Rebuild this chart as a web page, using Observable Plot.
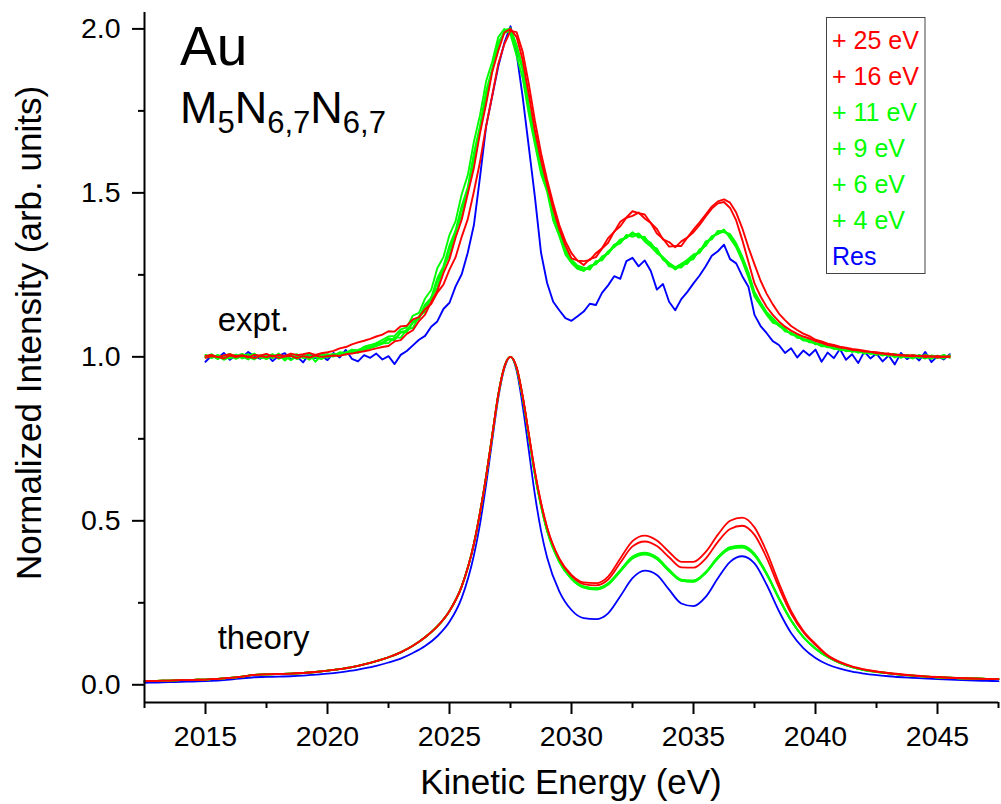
<!DOCTYPE html>
<html>
<head>
<meta charset="utf-8">
<script src="https://cdn.jsdelivr.net/npm/d3@7"></script>
<script src="https://cdn.jsdelivr.net/npm/@observablehq/plot@0.6"></script>
<style>
  body { margin: 0; background: #fff; }
  #chart svg { display: block; }
</style>
</head>
<body>
<div id="chart"></div>
<script>
// Au M5N6,7N6,7 Auger spectra: measured (offset +1) and calculated, one line per photon energy above threshold.
const seriesLabels = ["+ 25 eV", "+ 16 eV", "+ 11 eV", "+ 9 eV", "+ 6 eV", "+ 4 eV", "Res"];
const seriesColors = ["#ff0000", "#ff0000", "#00ff00", "#00ff00", "#00ff00", "#00ff00", "#0000ff"];

// Measured spectra: kinetic-energy channels start at 2015 eV, 0.25 eV apart.
const exptStart = 2015;
const exptStep = 0.25;

const expt25 = [
  1.003, 1.006, 0.999, 1.004, 1.008, 1.002, 1.005, 0.998, 1.006, 1.004,
  1.009, 1.001, 1.006, 1.003, 1.010, 1.005, 1.008, 1.012, 1.006, 1.011,
  1.014, 1.018, 1.026, 1.030, 1.038, 1.044, 1.049, 1.055, 1.062, 1.068,
  1.078, 1.077, 1.093, 1.095, 1.114, 1.121, 1.146, 1.161, 1.196, 1.220,
  1.266, 1.304, 1.366, 1.420, 1.504, 1.594, 1.704, 1.796, 1.894, 1.954,
  1.994, 1.990, 1.930, 1.832, 1.720, 1.622, 1.540, 1.468, 1.402, 1.352,
  1.316, 1.293, 1.292, 1.295, 1.316, 1.331, 1.362, 1.381, 1.412, 1.425,
  1.444, 1.438, 1.434, 1.408, 1.390, 1.358, 1.350, 1.334, 1.352, 1.364,
  1.388, 1.410, 1.434, 1.458, 1.474, 1.480, 1.470, 1.440, 1.392, 1.334,
  1.282, 1.232, 1.192, 1.160, 1.132, 1.112, 1.094, 1.082, 1.071, 1.063,
  1.052, 1.047, 1.040, 1.036, 1.031, 1.028, 1.024, 1.022, 1.019, 1.016,
  1.014, 1.011, 1.010, 1.007, 1.006, 1.004, 1.005, 1.002, 1.004, 1.000,
  1.003, 0.999, 1.002
];
const expt16 = [
  0.997, 1.002, 1.000, 0.995, 1.004, 0.999, 1.003, 1.001, 0.996, 1.002,
  0.999, 1.004, 0.997, 1.001, 1.003, 0.996, 1.002, 0.998, 1.004, 1.000,
  1.002, 1.004, 1.003, 1.008, 1.010, 1.014, 1.017, 1.021, 1.026, 1.030,
  1.033, 1.047, 1.051, 1.070, 1.081, 1.109, 1.129, 1.167, 1.201, 1.255,
  1.298, 1.364, 1.418, 1.498, 1.576, 1.682, 1.771, 1.868, 1.934, 1.989,
  2.000, 1.975, 1.905, 1.800, 1.690, 1.600, 1.525, 1.452, 1.390, 1.340,
  1.300, 1.294, 1.280, 1.298, 1.304, 1.330, 1.348, 1.382, 1.398, 1.424,
  1.430, 1.440, 1.422, 1.408, 1.376, 1.360, 1.336, 1.338, 1.338, 1.364,
  1.380, 1.402, 1.428, 1.452, 1.468, 1.472, 1.454, 1.416, 1.356, 1.290,
  1.224, 1.184, 1.152, 1.128, 1.108, 1.092, 1.080, 1.070, 1.062, 1.056,
  1.048, 1.043, 1.036, 1.033, 1.028, 1.026, 1.021, 1.020, 1.016, 1.015,
  1.011, 1.010, 1.007, 1.006, 1.004, 1.003, 1.002, 1.003, 0.999, 1.002,
  0.998, 1.001, 1.000
];
const expt11 = [
  1.002, 0.996, 1.006, 0.999, 1.004, 0.994, 1.003, 1.008, 0.997, 1.001,
  0.993, 1.005, 0.999, 1.002, 0.990, 1.004, 1.000, 0.995, 1.006, 1.001,
  1.004, 1.009, 1.006, 1.014, 1.017, 1.021, 1.027, 1.031, 1.039, 1.044,
  1.056, 1.052, 1.077, 1.079, 1.108, 1.121, 1.160, 1.180, 1.240, 1.276,
  1.340, 1.386, 1.460, 1.517, 1.622, 1.704, 1.810, 1.878, 1.960, 1.988,
  1.994, 1.940, 1.876, 1.754, 1.660, 1.570, 1.516, 1.426, 1.378, 1.322,
  1.292, 1.274, 1.266, 1.272, 1.288, 1.298, 1.322, 1.334, 1.352, 1.364,
  1.378, 1.368, 1.362, 1.342, 1.328, 1.298, 1.282, 1.268, 1.279, 1.288,
  1.306, 1.322, 1.348, 1.362, 1.381, 1.386, 1.368, 1.342, 1.298, 1.252,
  1.192, 1.162, 1.132, 1.112, 1.094, 1.082, 1.071, 1.062, 1.052, 1.048,
  1.040, 1.037, 1.029, 1.028, 1.022, 1.021, 1.017, 1.018, 1.012, 1.014,
  1.008, 1.011, 1.004, 1.009, 1.002, 1.006, 0.999, 1.004, 0.997, 1.003,
  0.996, 1.005, 1.000
];
const expt9 = [
  0.998, 1.005, 0.993, 1.003, 1.009, 0.997, 1.001, 0.992, 1.006, 1.000,
  1.004, 0.996, 1.010, 0.994, 1.002, 0.997, 1.006, 0.991, 1.003, 1.007,
  1.008, 1.004, 1.014, 1.012, 1.022, 1.019, 1.031, 1.036, 1.042, 1.052,
  1.062, 1.064, 1.084, 1.090, 1.126, 1.134, 1.178, 1.204, 1.270, 1.304,
  1.372, 1.414, 1.496, 1.554, 1.656, 1.737, 1.840, 1.900, 1.975, 2.000,
  1.984, 1.918, 1.850, 1.740, 1.648, 1.558, 1.504, 1.416, 1.368, 1.312,
  1.286, 1.268, 1.262, 1.278, 1.282, 1.306, 1.314, 1.338, 1.346, 1.372,
  1.366, 1.374, 1.352, 1.336, 1.316, 1.302, 1.276, 1.272, 1.284, 1.296,
  1.312, 1.318, 1.342, 1.368, 1.374, 1.388, 1.362, 1.334, 1.292, 1.242,
  1.184, 1.156, 1.128, 1.104, 1.098, 1.078, 1.074, 1.058, 1.056, 1.044,
  1.043, 1.032, 1.033, 1.024, 1.026, 1.017, 1.021, 1.013, 1.016, 1.009,
  1.012, 1.004, 1.010, 0.998, 1.007, 1.001, 0.995, 1.006, 1.000, 0.994,
  1.004, 0.998, 1.003
];
const expt6 = [
  1.006, 0.999, 1.002, 0.991, 1.000, 1.007, 0.995, 1.003, 1.010, 0.996,
  1.001, 1.008, 0.994, 1.003, 1.006, 0.993, 1.002, 1.009, 0.985, 1.004,
  0.998, 1.006, 1.004, 1.009, 1.015, 1.012, 1.022, 1.027, 1.033, 1.041,
  1.042, 1.060, 1.058, 1.084, 1.088, 1.124, 1.138, 1.182, 1.211, 1.273,
  1.311, 1.383, 1.429, 1.512, 1.585, 1.697, 1.777, 1.877, 1.935, 1.996,
  2.002, 1.950, 1.884, 1.766, 1.670, 1.580, 1.520, 1.434, 1.384, 1.328,
  1.296, 1.278, 1.272, 1.266, 1.292, 1.294, 1.318, 1.342, 1.348, 1.368,
  1.372, 1.376, 1.358, 1.348, 1.322, 1.304, 1.286, 1.274, 1.272, 1.292,
  1.298, 1.328, 1.338, 1.366, 1.376, 1.382, 1.374, 1.346, 1.306, 1.258,
  1.198, 1.166, 1.136, 1.118, 1.098, 1.086, 1.068, 1.066, 1.054, 1.052,
  1.038, 1.041, 1.031, 1.030, 1.020, 1.024, 1.015, 1.019, 1.010, 1.015,
  1.006, 1.012, 1.002, 1.008, 0.997, 1.005, 1.002, 0.996, 1.007, 1.001,
  0.998, 1.006, 0.997
];
const expt4 = [
  1.000, 1.008, 0.997, 1.004, 0.995, 1.002, 1.009, 0.999, 0.992, 1.005,
  0.998, 1.003, 1.007, 0.989, 1.004, 1.008, 0.996, 1.002, 0.999, 0.993,
  1.003, 1.001, 1.010, 1.007, 1.014, 1.018, 1.020, 1.029, 1.034, 1.040,
  1.053, 1.051, 1.074, 1.075, 1.104, 1.116, 1.154, 1.174, 1.230, 1.268,
  1.332, 1.379, 1.452, 1.510, 1.608, 1.696, 1.802, 1.872, 1.954, 1.990,
  1.998, 1.946, 1.878, 1.762, 1.664, 1.576, 1.518, 1.432, 1.382, 1.324,
  1.294, 1.270, 1.264, 1.276, 1.284, 1.302, 1.316, 1.338, 1.358, 1.362,
  1.380, 1.364, 1.366, 1.338, 1.330, 1.296, 1.284, 1.266, 1.281, 1.284,
  1.308, 1.318, 1.352, 1.358, 1.384, 1.380, 1.372, 1.338, 1.302, 1.246,
  1.188, 1.160, 1.134, 1.108, 1.100, 1.080, 1.072, 1.064, 1.050, 1.050,
  1.042, 1.034, 1.034, 1.026, 1.024, 1.019, 1.020, 1.014, 1.015, 1.010,
  1.010, 1.006, 1.008, 1.002, 1.005, 0.998, 1.006, 1.001, 0.995, 1.004,
  1.001, 0.995, 1.005
];
const exptRes = [
  0.985, 1.004, 0.996, 1.012, 0.991, 1.006, 0.998, 1.015, 1.002, 0.994,
  1.008, 0.987, 1.003, 1.011, 0.992, 1.001, 0.983, 1.009, 0.996, 1.004,
  0.990, 1.012, 0.998, 1.021, 0.994, 0.986, 1.005, 0.997, 1.010, 0.992,
  1.002, 0.978, 1.006, 1.018, 1.035, 1.052, 1.064, 1.092, 1.108, 1.146,
  1.165, 1.215, 1.252, 1.318, 1.402, 1.548, 1.702, 1.795, 1.886, 1.958,
  2.008, 1.925, 1.792, 1.640, 1.488, 1.318, 1.225, 1.168, 1.142, 1.118,
  1.110, 1.124, 1.138, 1.162, 1.158, 1.195, 1.218, 1.246, 1.238, 1.292,
  1.302, 1.276, 1.294, 1.262, 1.205, 1.222, 1.168, 1.142, 1.176, 1.198,
  1.224, 1.248, 1.276, 1.308, 1.322, 1.342, 1.298, 1.285, 1.246, 1.214,
  1.128, 1.094, 1.072, 1.048, 1.036, 1.012, 1.026, 0.998, 1.019, 1.004,
  1.022, 0.985, 1.013, 0.996, 1.024, 0.991, 1.008, 0.981, 1.016, 0.995,
  1.010, 0.986, 1.004, 0.977, 1.012, 0.993, 1.006, 0.989, 1.015, 0.984,
  1.002, 0.992, 1.008
];

// Calculated spectra, normalised to the main peak.
const theoryEnergy = [
  2012.5, 2013, 2013.5, 2014, 2014.5, 2015, 2015.5, 2016, 2016.5, 2017,
  2017.5, 2018, 2018.5, 2019, 2019.5, 2020, 2020.5, 2021, 2021.5, 2022,
  2022.5, 2023, 2023.5, 2024, 2024.5, 2025, 2025.5, 2026, 2026.25, 2026.5,
  2026.75, 2027, 2027.25, 2027.5, 2027.75, 2028, 2028.25, 2028.5, 2028.75, 2029,
  2029.5, 2030, 2030.5, 2031, 2031.5, 2032, 2032.5, 2033, 2033.5, 2034,
  2034.5, 2035, 2035.5, 2036, 2036.5, 2037, 2037.5, 2038, 2038.5, 2039,
  2039.5, 2040, 2040.5, 2041, 2041.5, 2042, 2043, 2044, 2045, 2046,
  2047, 2047.5
];
const theory25 = [
  0.011, 0.012, 0.013, 0.014, 0.015, 0.016, 0.018, 0.021, 0.025, 0.030,
  0.032, 0.033, 0.034, 0.036, 0.039, 0.043, 0.048, 0.054, 0.062, 0.072,
  0.084, 0.099, 0.119, 0.145, 0.178, 0.225, 0.300, 0.430, 0.525, 0.635,
  0.760, 0.885, 0.970, 1.000, 0.968, 0.880, 0.765, 0.650, 0.555, 0.480,
  0.385, 0.335, 0.312, 0.310, 0.330, 0.385, 0.438, 0.455, 0.440, 0.405,
  0.375, 0.375, 0.405, 0.458, 0.500, 0.510, 0.480, 0.405, 0.310, 0.225,
  0.165, 0.125, 0.090, 0.070, 0.056, 0.047, 0.036, 0.029, 0.024, 0.020,
  0.018, 0.017
];
const theory16 = [
  0.011, 0.012, 0.013, 0.014, 0.015, 0.016, 0.018, 0.021, 0.025, 0.030,
  0.032, 0.033, 0.034, 0.036, 0.039, 0.043, 0.048, 0.054, 0.062, 0.072,
  0.084, 0.099, 0.119, 0.145, 0.178, 0.225, 0.300, 0.430, 0.525, 0.635,
  0.760, 0.885, 0.970, 1.000, 0.968, 0.880, 0.765, 0.650, 0.555, 0.480,
  0.383, 0.332, 0.307, 0.303, 0.321, 0.372, 0.422, 0.437, 0.423, 0.389,
  0.358, 0.357, 0.385, 0.436, 0.475, 0.485, 0.457, 0.387, 0.297, 0.217,
  0.160, 0.121, 0.088, 0.068, 0.055, 0.046, 0.035, 0.028, 0.023, 0.020,
  0.018, 0.017
];
const theory11 = [
  0.011, 0.012, 0.013, 0.014, 0.015, 0.016, 0.018, 0.021, 0.025, 0.030,
  0.032, 0.033, 0.034, 0.036, 0.039, 0.043, 0.048, 0.054, 0.062, 0.072,
  0.084, 0.099, 0.119, 0.145, 0.178, 0.225, 0.300, 0.430, 0.525, 0.635,
  0.760, 0.885, 0.970, 1.000, 0.966, 0.876, 0.758, 0.640, 0.545, 0.468,
  0.374, 0.322, 0.296, 0.290, 0.305, 0.345, 0.385, 0.397, 0.383, 0.346,
  0.317, 0.314, 0.340, 0.385, 0.414, 0.418, 0.394, 0.336, 0.262, 0.195,
  0.145, 0.110, 0.085, 0.067, 0.054, 0.045, 0.035, 0.028, 0.023, 0.020,
  0.018, 0.017
];
const theory9 = [
  0.011, 0.012, 0.013, 0.014, 0.015, 0.016, 0.018, 0.021, 0.025, 0.030,
  0.032, 0.033, 0.034, 0.036, 0.039, 0.043, 0.048, 0.054, 0.062, 0.072,
  0.084, 0.099, 0.119, 0.145, 0.178, 0.225, 0.300, 0.430, 0.525, 0.635,
  0.760, 0.885, 0.970, 1.000, 0.966, 0.877, 0.760, 0.643, 0.548, 0.472,
  0.377, 0.326, 0.300, 0.295, 0.310, 0.350, 0.391, 0.403, 0.389, 0.351,
  0.321, 0.318, 0.344, 0.390, 0.420, 0.424, 0.400, 0.340, 0.265, 0.197,
  0.146, 0.111, 0.085, 0.067, 0.054, 0.045, 0.035, 0.028, 0.023, 0.020,
  0.018, 0.017
];
const theory6 = [
  0.011, 0.012, 0.013, 0.014, 0.015, 0.016, 0.018, 0.021, 0.025, 0.030,
  0.032, 0.033, 0.034, 0.036, 0.039, 0.043, 0.048, 0.054, 0.062, 0.072,
  0.084, 0.099, 0.119, 0.145, 0.178, 0.225, 0.300, 0.430, 0.525, 0.635,
  0.760, 0.885, 0.970, 1.000, 0.966, 0.876, 0.759, 0.641, 0.546, 0.470,
  0.375, 0.323, 0.297, 0.292, 0.307, 0.347, 0.387, 0.399, 0.385, 0.348,
  0.318, 0.315, 0.342, 0.387, 0.416, 0.420, 0.396, 0.337, 0.263, 0.196,
  0.145, 0.110, 0.085, 0.067, 0.054, 0.045, 0.035, 0.028, 0.023, 0.020,
  0.018, 0.017
];
const theory4 = [
  0.011, 0.012, 0.013, 0.014, 0.015, 0.016, 0.018, 0.021, 0.025, 0.030,
  0.032, 0.033, 0.034, 0.036, 0.039, 0.043, 0.048, 0.054, 0.062, 0.072,
  0.084, 0.099, 0.119, 0.145, 0.178, 0.225, 0.300, 0.430, 0.525, 0.635,
  0.760, 0.885, 0.970, 1.000, 0.966, 0.877, 0.760, 0.642, 0.547, 0.471,
  0.376, 0.325, 0.299, 0.294, 0.309, 0.349, 0.389, 0.401, 0.387, 0.350,
  0.320, 0.317, 0.343, 0.389, 0.418, 0.422, 0.398, 0.339, 0.264, 0.197,
  0.146, 0.110, 0.085, 0.067, 0.054, 0.045, 0.035, 0.028, 0.023, 0.020,
  0.018, 0.017
];
const theoryRes = [
  0.006, 0.007, 0.008, 0.009, 0.010, 0.011, 0.013, 0.016, 0.020, 0.023,
  0.024, 0.025, 0.026, 0.028, 0.031, 0.034, 0.038, 0.043, 0.050, 0.058,
  0.068, 0.080, 0.097, 0.118, 0.148, 0.192, 0.265, 0.395, 0.490, 0.610,
  0.745, 0.875, 0.965, 1.000, 0.958, 0.850, 0.715, 0.580, 0.470, 0.388,
  0.285, 0.228, 0.203, 0.200, 0.218, 0.270, 0.325, 0.348, 0.335, 0.290,
  0.248, 0.240, 0.268, 0.325, 0.375, 0.392, 0.370, 0.305, 0.225, 0.158,
  0.112, 0.082, 0.062, 0.049, 0.040, 0.034, 0.026, 0.021, 0.017, 0.014,
  0.012, 0.011
];

// Axis ticks
const xMajorTicks = [2015, 2020, 2025, 2030, 2035, 2040, 2045];
const xMinorTicks = [2012.5, 2017.5, 2022.5, 2027.5, 2032.5, 2037.5, 2042.5, 2047.5];
const yMajorTicks = [0, 0.5, 1.0, 1.5, 2.0];
const yMinorTicks = [0.25, 0.75, 1.25, 1.75];

// Text placed inside the plot area
const annotations = [
  {text: "expt.", energy: 2015.5, value: 1.11},
  {text: "theory", energy: 2015.5, value: 0.14}
];

const xDomain = [2012.5, 2047.5];
const yDomain = [-0.054, 2.05];

const exptSets = [expt25, expt16, expt11, expt9, expt6, expt4, exptRes];
const theorySets = [theory25, theory16, theory11, theory9, theory6, theory4, theoryRes];

const series = seriesLabels.map((label, i) => ({
  label,
  color: seriesColors[i],
  expt: exptSets[i].map((value, k) => ({energy: exptStart + k * exptStep, value})),
  theory: theorySets[i].map((value, k) => ({energy: theoryEnergy[k], value}))
}));

// Blue first, then the green set, reds on top
const drawOrder = [6, 5, 4, 3, 2, 1, 0];

const font = "'Liberation Sans', Arial, Helvetica, sans-serif";

const chart = Plot.plot({
  width: 1001,
  height: 804,
  marginLeft: 144,
  marginRight: 3,
  marginTop: 12,
  marginBottom: 102,
  style: {fontFamily: font, fontSize: "28.5px", color: "#000", background: "#fff"},
  x: {domain: xDomain, axis: null},
  y: {domain: yDomain, axis: null},
  marks: [
    ...drawOrder.map(i => Plot.line(series[i].theory, {
      x: "energy", y: "value", stroke: series[i].color, strokeWidth: 1.8, curve: "monotone-x"
    })),
    ...drawOrder.map(i => Plot.line(series[i].expt, {
      x: "energy", y: "value", stroke: series[i].color, strokeWidth: 1.9
    })),
    Plot.text(annotations, {
      x: "energy", y: "value", text: "text", textAnchor: "start", fontSize: 33, fill: "#000"
    }),
    Plot.axisX({ticks: xMajorTicks, tickSize: 12, tickPadding: 11, strokeWidth: 2,
      tickFormat: d => d3.format("d")(d), label: null}),
    Plot.axisX({ticks: xMinorTicks, tickSize: 6, strokeWidth: 2, tickFormat: () => "", label: null}),
    Plot.axisY({ticks: yMajorTicks, tickSize: 12, tickPadding: 12, strokeWidth: 2,
      tickFormat: d => d3.format(".1f")(d), label: null}),
    Plot.axisY({ticks: yMinorTicks, tickSize: 6, strokeWidth: 2, tickFormat: () => "", label: null}),
    Plot.ruleY([yDomain[0]], {stroke: "#000", strokeWidth: 2}),
    Plot.ruleX([xDomain[0]], {stroke: "#000", strokeWidth: 2})
  ]
});

const svg = d3.select(chart);

// Axis titles
svg.append("text")
  .attr("x", 571).attr("y", 794)
  .attr("text-anchor", "middle")
  .attr("font-size", 35).attr("fill", "#000")
  .text("Kinetic Energy (eV)");
svg.append("text")
  .attr("transform", "translate(41,333) rotate(-90)")
  .attr("text-anchor", "middle")
  .attr("font-size", 35).attr("fill", "#000")
  .text("Normalized Intensity (arb. units)");

// Element and transition
svg.append("text")
  .attr("x", 180).attr("y", 65)
  .attr("text-anchor", "start")
  .attr("font-size", 55).attr("fill", "#000")
  .text("Au");
const trans = svg.append("text")
  .attr("x", 180).attr("y", 123)
  .attr("text-anchor", "start")
  .attr("font-size", 45).attr("fill", "#000");
[["M", false], ["5", true], ["N", false], ["6,7", true], ["N", false], ["6,7", true]].forEach(([t, sub], i, arr) => {
  const prevSub = i > 0 && arr[i - 1][1];
  trans.append("tspan")
    .attr("font-size", sub ? 31 : 45)
    .attr("dy", sub ? 10 : (prevSub ? -10 : 0))
    .text(t);
});

// Legend
const legend = svg.append("g").attr("text-anchor", "start");
legend.append("rect")
  .attr("x", 826.5).attr("y", 17.5).attr("width", 98.5).attr("height", 256)
  .attr("fill", "#fff").attr("stroke", "#444").attr("stroke-width", 1);
series.forEach((s, i) => {
  legend.append("text")
    .attr("x", 832).attr("y", 49.3 + i * 36)
    .attr("font-size", 25).attr("fill", s.color)
    .text(s.label);
});

document.getElementById("chart").appendChild(chart);
</script>
</body>
</html>
